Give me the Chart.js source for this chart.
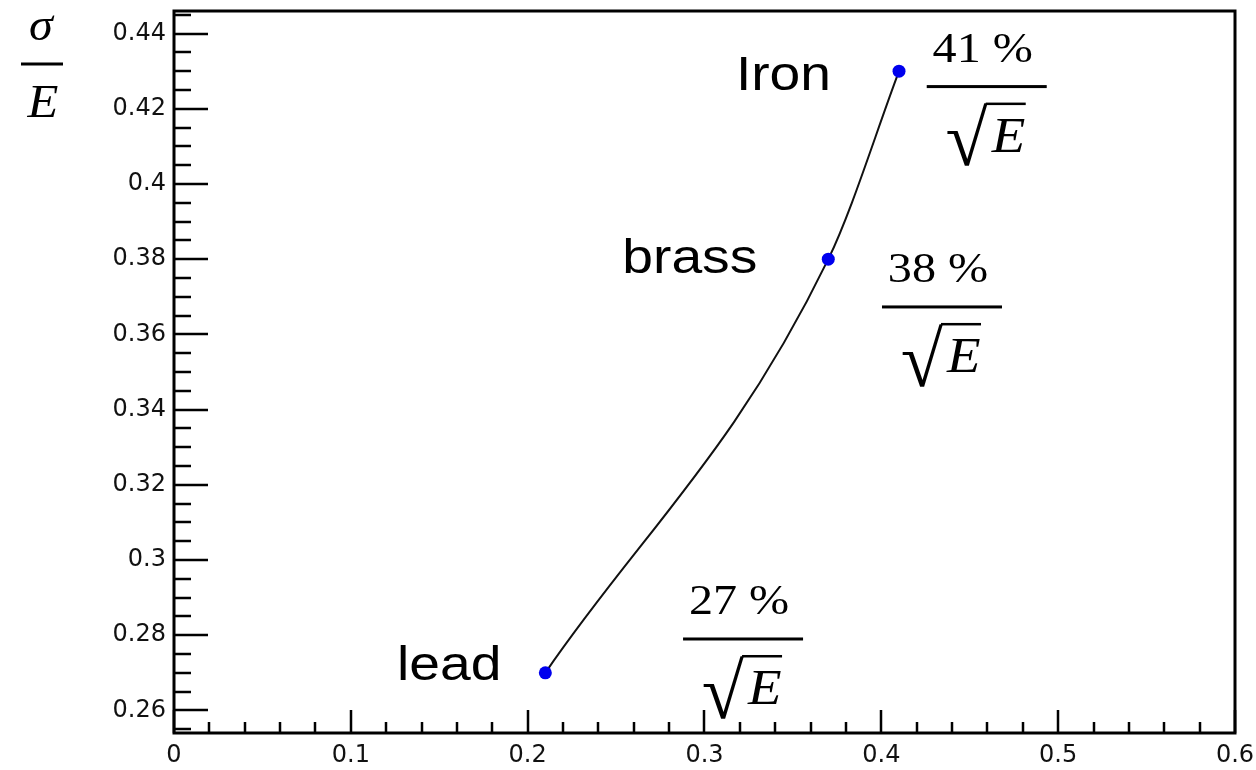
<!DOCTYPE html>
<html>
<head>
<meta charset="utf-8">
<script src="https://cdn.jsdelivr.net/npm/chart.js@4/dist/chart.umd.min.js"></script>
<style>
    html, body { margin: 0; padding: 0; background: #fff; }
    #chart-wrap { width: 1256px; height: 770px; }
</style>
</head>
<body>
<div id="chart-wrap"><canvas id="resolution-chart" width="1256" height="770"></canvas></div>
<script>
const materials = ['lead', 'brass', 'Iron'];
const absorberFraction = [0.21, 0.37, 0.41];
const energyResolution = [0.27, 0.38, 0.43];
const stochasticTerms = ['27 %', '38 %', '41 %'];

const xMin = 0;
const xMax = 0.6;
const xMajorStep = 0.1;
const yMin = 0.254;
const yMax = 0.446;
const yMajorStep = 0.02;

// layout of the annotations (not data)
const nameOffsets = [[-44, 7], [-71, 14], [-68, 19]];
const termAnchorX = [0.3218, 0.4343, 0.4596];
const termAnchorY = [0.2790, 0.3673, 0.4259];

const chartCanvas = document.getElementById('resolution-chart');

function isMultiple(value, step) {
    const r = value / step;
    return Math.abs(r - Math.round(r)) < 1e-6;
}

// major ticks come from the scale, minor ones subdivide them
function tickMarks(scale, divisions) {
    const majors = scale.ticks.map((t) => t.value);
    const major = majors[1] - majors[0];
    const step = major / divisions;
    const first = majors[0] - Math.floor((majors[0] - scale.min) / step + 1e-9) * step;
    const marks = [];
    for (let k = 0; first + k * step <= scale.max + 1e-9; k++) {
        const v = first + k * step;
        marks.push({ value: v, major: isMultiple(v - majors[0], major) });
    }
    return marks;
}

function stretchedText(ctx, text, x, y, font, align, sx) {
    ctx.save();
    ctx.translate(x, y);
    ctx.scale(sx, 1);
    ctx.font = font;
    ctx.textAlign = align;
    ctx.textBaseline = 'alphabetic';
    ctx.fillText(text, 0, 0);
    ctx.restore();
}

function drawTerm(ctx, cx, lineY, text) {
    ctx.fillStyle = '#000';
    stretchedText(ctx, text, cx - 4, lineY - 25, '43px "Liberation Serif"', 'center', 1.12);
    ctx.fillRect(cx - 60, lineY - 1.5, 120, 3);

    // radical sign fitted into its box, then the bar over E
    ctx.save();
    ctx.font = '60px "Liberation Serif"';
    const m = ctx.measureText('√');
    const gw = m.actualBoundingBoxLeft + m.actualBoundingBoxRight;
    const gh = m.actualBoundingBoxAscent + m.actualBoundingBoxDescent;
    ctx.translate(cx - 40, lineY + 16);
    ctx.scale(41 / gw, 64 / gh);
    ctx.textAlign = 'left';
    ctx.textBaseline = 'alphabetic';
    ctx.fillText('√', m.actualBoundingBoxLeft, m.actualBoundingBoxAscent);
    ctx.restore();
    ctx.fillRect(cx - 1, lineY + 16, 40, 2.5);

    stretchedText(ctx, 'E', cx + 5, lineY + 65, 'italic 50px "Liberation Serif"', 'left', 1.1);
}

const frameAndTicks = {
    id: 'frameAndTicks',
    beforeDatasetsDraw(chart) {
        const { ctx, chartArea, scales } = chart;
        const { left, right, top, bottom } = chartArea;
        ctx.save();
        ctx.strokeStyle = '#000';
        ctx.lineWidth = 3;
        ctx.strokeRect(left, top, right - left, bottom - top);

        ctx.lineWidth = 2.5;
        ctx.beginPath();
        tickMarks(scales.y, 4).forEach((tick) => {
            const y = Math.round(scales.y.getPixelForValue(tick.value));
            const len = tick.major ? 34 : 17;
            ctx.moveTo(left, y);
            ctx.lineTo(left + len, y);
        });
        tickMarks(scales.x, 5).forEach((tick) => {
            const x = Math.round(scales.x.getPixelForValue(tick.value));
            const len = tick.major ? 23 : 11;
            ctx.moveTo(x, bottom);
            ctx.lineTo(x, bottom - len);
        });
        ctx.stroke();
        ctx.restore();
    },
    afterDraw(chart) {
        const { ctx, scales } = chart;
        ctx.save();
        ctx.fillStyle = '#000';

        // axis title sigma / E
        stretchedText(ctx, 'σ', 41, 40, 'italic 46px "Liberation Serif"', 'center', 1.05);
        ctx.fillRect(21, 62.5, 42, 3);
        stretchedText(ctx, 'E', 43, 117, 'italic 46px "Liberation Serif"', 'center', 1.1);

        materials.forEach((name, i) => {
            const px = scales.x.getPixelForValue(absorberFraction[i]);
            const py = scales.y.getPixelForValue(energyResolution[i]);
            stretchedText(ctx, name, px + nameOffsets[i][0], py + nameOffsets[i][1],
                '48px "Liberation Sans"', 'right', 1.15);
        });

        stochasticTerms.forEach((term, i) => {
            const cx = scales.x.getPixelForValue(termAnchorX[i]);
            const ly = scales.y.getPixelForValue(termAnchorY[i]);
            drawTerm(ctx, cx, ly, term);
        });
        ctx.restore();
    }
};

const tickFont = { family: 'DejaVu Sans', size: 24 };

function noScalePadding(scale) {
    scale.paddingTop = 0;
    scale.paddingBottom = 0;
    scale.paddingLeft = 0;
    scale.paddingRight = 0;
}

new Chart(chartCanvas, {
    type: 'line',
    data: {
        datasets: [{
            data: absorberFraction.map((x, i) => ({ x, y: energyResolution[i] })),
            borderColor: '#111',
            borderWidth: 2,
            cubicInterpolationMode: 'monotone',
            pointRadius: 6.5,
            pointHoverRadius: 6.5,
            pointBackgroundColor: '#0000ee',
            pointBorderWidth: 0,
            fill: false
        }]
    },
    options: {
        responsive: false,
        animation: false,
        events: [],
        layout: { padding: { top: 11, right: 21, left: 0, bottom: 0 } },
        plugins: {
            legend: { display: false },
            tooltip: { enabled: false }
        },
        scales: {
            x: {
                type: 'linear',
                min: xMin,
                max: xMax,
                grid: { display: false, drawTicks: false },
                border: { display: false },
                ticks: {
                    stepSize: xMajorStep,
                    includeBounds: false,
                    autoSkip: false,
                    maxRotation: 0,
                    padding: 8,
                    color: '#111',
                    font: tickFont,
                    callback: (v) => String(+v.toFixed(2))
                },
                afterFit: (scale) => {
                    scale.height = 37;
                    noScalePadding(scale);
                }
            },
            y: {
                type: 'linear',
                min: yMin,
                max: yMax,
                grid: { display: false, drawTicks: false },
                border: { display: false },
                ticks: {
                    stepSize: yMajorStep,
                    includeBounds: false,
                    autoSkip: false,
                    padding: 8,
                    color: '#111',
                    font: tickFont,
                    callback: (v) => String(+v.toFixed(3))
                },
                afterFit: (scale) => {
                    scale.width = 174;
                    noScalePadding(scale);
                }
            }
        }
    },
    plugins: [frameAndTicks]
});
</script>
</body>
</html>
